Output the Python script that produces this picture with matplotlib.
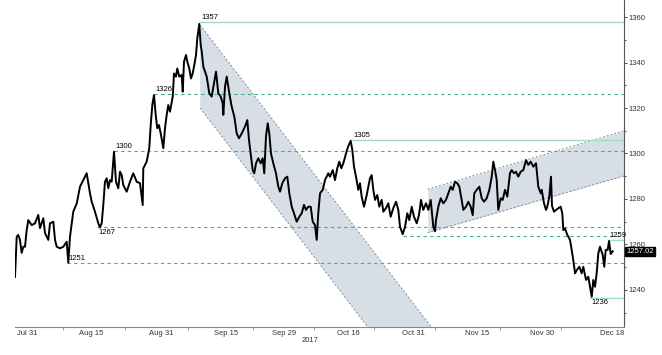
import matplotlib
matplotlib.use("Agg")
import matplotlib.pyplot as plt
import matplotlib.transforms as mtransforms

plt.rcParams['font.family'] = ['Liberation Sans', 'DejaVu Sans']

# x = trading days counted from Jul 31 2017
days = [-2.05, -1.76, -1.49, -1.2, -0.91, -0.63, -0.34, -0.05, 0.22, 0.8,
        1.37, 1.93, 2.22, 2.79, 3.08, 3.64, 3.93, 4.5, 4.79, 5.08,
        5.64, 6.21, 6.79, 7.06, 7.35, 7.91, 8.5, 9.06, 9.62, 10.2,
        10.48, 10.77, 11.06, 11.62, 12.19, 12.48, 12.77, 13.04, 13.33, 13.62,
        13.9, 14.19, 14.48, 14.75, 14.87, 15.21, 15.61, 15.9, 16.19, 16.46,
        17.04, 17.61, 18.17, 18.75, 19.32, 19.78, 19.88, 20.46, 20.9, 21.15,
        21.42, 21.71, 22.0, 22.27, 22.56, 22.91, 23.3, 23.59, 23.88, 24.15,
        24.44, 24.91, 25.13, 25.47, 25.69, 26.03, 26.44, 26.62, 26.84, 27.18,
        27.4, 27.74, 28.03, 28.32, 28.6, 28.89, 29.11, 29.45, 29.69, 29.86,
        30.14, 30.43, 30.72, 31.16, 31.57, 31.97, 32.31, 32.7, 33.11, 33.45,
        33.56, 33.85, 34.14, 34.58, 34.99, 35.44, 35.85, 36.24, 36.7, 37.26,
        37.66, 37.95, 38.24, 38.58, 38.85, 39.15, 39.54, 39.95, 40.29, 40.56,
        40.85, 41.15, 41.42, 41.71, 42.1, 42.56, 42.96, 43.25, 43.64, 44.1,
        44.5, 44.84, 45.25, 45.64, 46.1, 46.55, 46.96, 47.35, 47.69, 48.09,
        48.5, 48.84, 49.23, 49.52, 49.79, 50.09, 50.55, 50.94, 51.5, 51.79,
        52.26, 52.65, 53.04, 53.38, 53.73, 54.07, 54.53, 54.87, 55.33, 55.61,
        55.9, 56.24, 56.63, 56.92, 57.21, 57.61, 58.07, 58.63, 58.92, 59.2,
        59.49, 59.88, 60.22, 60.63, 60.91, 61.37, 61.76, 62.17, 62.62, 63.08,
        63.47, 63.76, 64.22, 64.62, 65.01, 65.35, 65.76, 66.15, 66.62, 67.01,
        67.35, 67.74, 68.21, 68.6, 69.01, 69.45, 69.74, 69.91, 70.31, 70.72,
        71.16, 71.62, 72.02, 72.43, 72.77, 73.16, 73.56, 73.9, 74.3, 74.58,
        75.04, 75.44, 75.85, 76.19, 76.46, 76.87, 77.32, 77.73, 78.12, 78.58,
        79.03, 79.44, 79.71, 80.0, 80.29, 80.56, 80.97, 81.31, 81.71, 82.1,
        82.56, 82.85, 83.25, 83.59, 83.98, 84.39, 84.84, 85.3, 85.69, 86.1,
        86.55, 87.01, 87.4, 87.81, 87.98, 88.38, 88.72, 88.94, 89.28, 89.57,
        89.74, 90.09, 90.43, 90.82, 91.23, 91.5, 91.68, 91.97, 92.36, 92.82,
        93.11, 93.38, 93.68, 93.97, 94.41, 94.82, 95.09, 95.56, 95.95, 96.24,
        96.53, 96.8, 97.09, 97.38, 97.66, 97.95, 98.41, 98.68, 98.92, 99.26,
        99.49, 99.78, 100.12]
price = [1245.7, 1263.4, 1264.2, 1262.0, 1256.3, 1259.0, 1259.0, 1266.3, 1270.7, 1268.5,
         1269.3, 1273.0, 1267.2, 1271.5, 1265.0, 1262.0, 1269.3, 1270.0, 1262.0, 1259.0,
         1258.3, 1259.0, 1261.2, 1252.0, 1263.4, 1274.4, 1278.0, 1285.4, 1288.3, 1291.3,
         1287.0, 1282.5, 1278.8, 1274.4, 1269.3, 1267.5, 1269.3, 1277.3, 1287.6, 1289.1,
         1284.7, 1288.3, 1287.6, 1296.4, 1300.8, 1287.6, 1284.7, 1292.0, 1290.5, 1286.1,
         1283.2, 1287.6, 1291.3, 1287.6, 1286.9, 1277.3, 1293.5, 1296.4, 1302.3, 1312.5,
         1321.3, 1325.7, 1316.9, 1311.1, 1312.5, 1308.1, 1302.3, 1311.1, 1317.0, 1321.3,
         1318.4, 1325.0, 1335.2, 1333.8, 1337.4, 1333.8, 1334.5, 1327.2, 1340.4, 1343.3,
         1340.4, 1337.4, 1333.0, 1335.2, 1338.9, 1343.3, 1350.6, 1357.0, 1347.7, 1345.0,
         1338.2, 1336.0, 1333.8, 1326.5, 1325.0, 1330.8, 1336.0, 1326.5, 1325.0, 1322.1,
         1317.0, 1329.4, 1333.8, 1326.5, 1320.6, 1316.2, 1308.8, 1306.7, 1308.8, 1311.8,
         1314.7, 1305.9, 1300.0, 1292.7, 1291.3, 1295.7, 1297.9, 1295.7, 1297.9, 1291.3,
         1307.4, 1313.3, 1308.8, 1300.0, 1295.7, 1291.3, 1285.4, 1283.2, 1286.9, 1289.1,
         1289.8, 1282.5, 1276.6, 1273.7, 1270.0, 1272.2, 1273.7, 1277.4, 1275.2, 1276.6,
         1276.6, 1270.0, 1268.5, 1262.0, 1273.7, 1282.5, 1284.0, 1288.3, 1291.3, 1289.8,
         1292.7, 1288.3, 1293.5, 1296.4, 1293.5, 1295.7, 1300.0, 1302.9, 1305.6, 1301.5,
         1294.2, 1289.8, 1284.0, 1286.9, 1281.0, 1276.6, 1281.7, 1289.1, 1290.5, 1284.0,
         1279.6, 1281.7, 1276.6, 1279.6, 1274.4, 1276.0, 1278.1, 1272.2, 1276.0, 1278.8,
         1275.2, 1267.8, 1264.5, 1267.8, 1273.7, 1270.7, 1276.6, 1272.2, 1269.3, 1273.0,
         1279.6, 1275.2, 1278.1, 1275.2, 1279.6, 1267.8, 1265.8, 1270.7, 1276.6, 1280.3,
         1278.1, 1279.6, 1282.5, 1285.4, 1284.0, 1287.6, 1286.9, 1285.4, 1279.6, 1275.2,
         1276.6, 1278.8, 1276.6, 1272.9, 1282.5, 1284.0, 1285.4, 1280.3, 1278.8, 1280.3,
         1284.0, 1289.8, 1296.4, 1292.7, 1288.3, 1275.2, 1280.3, 1279.6, 1284.0, 1281.0,
         1291.3, 1292.7, 1291.3, 1292.0, 1289.8, 1292.0, 1292.7, 1297.1, 1295.0, 1296.4,
         1294.2, 1295.7, 1285.4, 1282.5, 1284.0, 1278.1, 1275.2, 1276.6, 1281.0, 1289.8,
         1277.0, 1274.4, 1275.2, 1275.9, 1276.6, 1273.7, 1266.3, 1267.0, 1264.2, 1262.0,
         1257.6, 1253.1, 1247.3, 1248.7, 1250.2, 1247.3, 1250.2, 1244.4, 1245.8, 1241.4,
         1237.0, 1244.4, 1241.4, 1247.3, 1256.1, 1259.0, 1255.4, 1250.2, 1257.6, 1257.6,
         1261.5, 1255.8, 1257.02]
last_price = 1257.02

# support / resistance levels: start day, level, solid?, label
level_start = [29.6, 21.7, 14.9, 55.6, 12.0, 6.8, 64.3, 99.3, 96.2]
level_value = [1357.8, 1326.1, 1301.1, 1305.9, 1267.5, 1251.7, 1263.9, 1261.8, 1236.6]
level_solid = [True, False, False, True, False, False, False, True, True]
level_label = ['1357', '1326', '1300', '1305', '1267', '1251', '', '1259', '1236']
level_label_above = [True, True, True, True, False, True, True, True, False]

# falling channel
desc_x = [29.6, 72.0]
desc_upper = [1356.5, 1214.0]
desc_lower = [1320.0, 1177.5]
# rising channel
asc_x = [68.5, 102.5]
asc_upper = [1284.3, 1310.3]
asc_lower = [1265.2, 1290.5]

tick_days = [0, 11, 23, 34, 44, 55, 66, 77, 88, 100]
tick_labels = ['Jul 31', 'Aug 15', 'Aug 31', 'Sep 15', 'Sep 29', 'Oct 16',
               'Oct 31', 'Nov 15', 'Nov 30', 'Dec 18']
minor_days = [6.2, 16.8, 27.5, 38.6, 49.0, 59.3, 69.7, 80.8, 91.3]

fig = plt.figure(figsize=(6.62, 3.55), dpi=100)
ax = fig.add_axes([15 / 662, 28 / 355, 609 / 662, 327 / 355])
ax.set_xlim(-2.05, 102.05)
ax.set_ylim(1223.7, 1367.5)

fill_col = '#d7dee5'
edge_col = '#7f8f9c'
ax.fill_between(desc_x, desc_lower, desc_upper, color=fill_col, lw=0, zorder=1)
ax.plot(desc_x, desc_upper, ls=(0, (2, 2)), color=edge_col, lw=0.7, zorder=2)
ax.plot(desc_x, desc_lower, ls=(0, (2, 2)), color=edge_col, lw=0.7, zorder=2)
ax.fill_between(asc_x, asc_lower, asc_upper, color=fill_col, lw=0, zorder=1)
ax.plot(asc_x, asc_upper, ls=(0, (2, 2)), color=edge_col, lw=0.7, zorder=2)
ax.plot(asc_x, asc_lower, ls=(0, (2, 2)), color=edge_col, lw=0.7, zorder=2)

for x0, v, solid, lab, above in zip(level_start, level_value, level_solid,
                                    level_label, level_label_above):
    if solid:
        ax.plot([x0, 102.05], [v, v], color='#9fdcc0', lw=1.0, zorder=2)
    else:
        ax.plot([x0, 102.05], [v, v], color='#3fb087', lw=0.8,
                ls=(0, (3, 3)), zorder=2)
    if lab:
        ax.annotate(lab, (x0, v), xytext=(1, 1 if above else -1),
                    textcoords='offset points', fontsize=5.5,
                    va='bottom' if above else 'top', ha='left', zorder=4)

ax.plot(days, price, color='black', lw=1.4, zorder=3)

for s in ['top', 'left']:
    ax.spines[s].set_visible(False)
ax.spines['right'].set_color('#555555')
ax.spines['bottom'].set_color('#888888')
ax.spines['right'].set_linewidth(0.8)
ax.spines['bottom'].set_linewidth(0.8)

ax.yaxis.tick_right()
ax.set_yticks(range(1240, 1361, 20))
ax.set_yticks(range(1230, 1361, 10), minor=True)
ax.tick_params(axis='y', which='both', labelsize=5.5, length=2, width=0.6,
               pad=1, colors='#333333')
ax.tick_params(axis='y', which='minor', length=1.5)

ax.set_xticks(tick_days)
ax.set_xticklabels(tick_labels)
ax.set_xticks(minor_days, minor=True)
ax.tick_params(axis='x', which='major', length=0, labelsize=5.5, pad=2,
               colors='#333333')
ax.tick_params(axis='x', which='minor', length=2, width=0.6, colors='#888888')

trans = mtransforms.blended_transform_factory(ax.transData, ax.transAxes)
ax.text(48.4, -0.03, '2017', transform=trans, fontsize=5.5, ha='center',
        va='top', color='#333333')

ytrans = mtransforms.blended_transform_factory(ax.transAxes, ax.transData)
ax.text(1.004, last_price, f'{last_price:.2f}', transform=ytrans, fontsize=5.5,
        color='white', va='center', ha='left',
        bbox=dict(boxstyle='square,pad=0.15', fc='black', ec='black'),
        zorder=5, clip_on=False)

fig.savefig('out.png', dpi=100)
